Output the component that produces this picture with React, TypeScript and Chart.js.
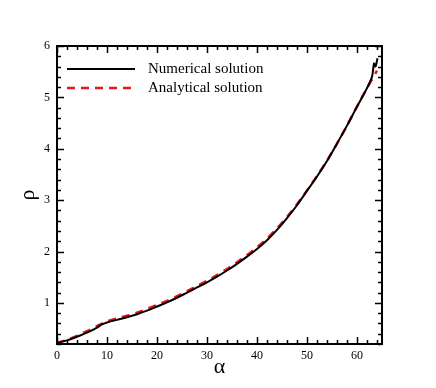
import React, { useEffect, useRef } from "react";
import { Chart, registerables } from "chart.js";

Chart.register(...registerables);

const numAlpha = [0, 2, 4, 6, 8, 9, 10, 12, 14, 16, 18, 20, 22, 24, 26, 28, 30, 32, 34, 36, 38, 40, 42, 44, 46, 48, 50, 52, 54, 56, 58, 60, 62, 63, 63.4, 63.7, 64.1];
const numRho = [0.22, 0.27, 0.34, 0.42, 0.52, 0.58, 0.62, 0.67, 0.72, 0.78, 0.85, 0.93, 1.01, 1.1, 1.2, 1.3, 1.4, 1.51, 1.63, 1.76, 1.9, 2.05, 2.22, 2.42, 2.65, 2.9, 3.18, 3.46, 3.76, 4.1, 4.45, 4.82, 5.18, 5.4, 5.66, 5.6, 5.76];

const anaAlpha = [0, 2, 4, 6, 8, 10, 12, 14, 16, 18, 20, 22, 24, 26, 28, 30, 32, 34, 36, 38, 40, 42, 44, 46, 48, 50, 52, 54, 56, 58, 60, 62, 64];
const anaRho = [0.22, 0.28, 0.36, 0.45, 0.55, 0.64, 0.7, 0.75, 0.81, 0.88, 0.96, 1.04, 1.13, 1.23, 1.33, 1.43, 1.54, 1.66, 1.79, 1.93, 2.08, 2.25, 2.45, 2.67, 2.92, 3.19, 3.47, 3.77, 4.1, 4.45, 4.82, 5.18, 5.52];

const xTickValues = [0, 10, 20, 30, 40, 50, 60];
const yTickValues = [1, 2, 3, 4, 5, 6];
const xRange = [0, 65];
const yRange = [0.2, 6];
const seriesLabels = ["Numerical solution", "Analytical solution"];

const FONT = "'Liberation Serif', 'Times New Roman', serif";

const framePlugin = {
  id: "frameTicks",
  afterDraw(chart: any) {
    const ctx = chart.ctx;
    const { left, right, top, bottom } = chart.chartArea;
    const xs = chart.scales.x;
    const ys = chart.scales.y;
    ctx.save();
    ctx.strokeStyle = "#000";
    ctx.lineWidth = 1.5;
    ctx.beginPath();
    for (let i = 0; i <= 32; i++) {
      const v = i * 2;
      const len = v % 10 === 0 ? 7 : 4;
      const px = Math.round(xs.getPixelForValue(v)) + 0.5;
      ctx.moveTo(px, bottom);
      ctx.lineTo(px, bottom - len);
      ctx.moveTo(px, top);
      ctx.lineTo(px, top + len);
    }
    for (let i = 1; i <= 30; i++) {
      const v = i * 0.2;
      const major = i % 5 === 0;
      const len = major ? 7 : 4;
      const py = Math.round(ys.getPixelForValue(v)) + 0.5;
      ctx.moveTo(left, py);
      ctx.lineTo(left + len, py);
      ctx.moveTo(right, py);
      ctx.lineTo(right - len, py);
    }
    ctx.stroke();
    ctx.lineWidth = 2;
    ctx.strokeRect(left, top, right - left, bottom - top);

    // legend
    const ds = chart.data.datasets;
    const lx0 = left + 10;
    const lx1 = left + 78;
    const rows = [top + 23, top + 42];
    ctx.font = `15px ${FONT}`;
    ctx.textBaseline = "middle";
    ctx.fillStyle = "#000";
    ds.forEach((d: any, i: number) => {
      ctx.beginPath();
      ctx.strokeStyle = d.borderColor;
      ctx.lineWidth = d.borderWidth;
      ctx.setLineDash(d.borderDash || []);
      ctx.moveTo(lx0, rows[i]);
      ctx.lineTo(lx1, rows[i]);
      ctx.stroke();
      ctx.setLineDash([]);
      ctx.fillText(d.label, lx1 + 13, rows[i]);
    });
    ctx.restore();
  },
};

export default function App() {
  const ref = useRef<HTMLCanvasElement>(null);
  useEffect(() => {
    document.body.style.margin = "0";
    const chart = new Chart(ref.current as HTMLCanvasElement, {
      type: "line",
      data: {
        datasets: [
          {
            label: seriesLabels[0],
            data: numAlpha.map((a, i) => ({ x: a, y: numRho[i] })),
            borderColor: "#000000",
            borderWidth: 2,
            pointRadius: 0,
            tension: 0.3,
          },
          {
            label: seriesLabels[1],
            data: anaAlpha.map((a, i) => ({ x: a, y: anaRho[i] })),
            borderColor: "#e8141b",
            borderWidth: 2.5,
            borderDash: [8, 6],
            pointRadius: 0,
            tension: 0.3,
          },
        ],
      },
      options: {
        animation: false,
        responsive: false,
        layout: { padding: { top: 46, right: 54, left: 0, bottom: 0 } },
        plugins: { legend: { display: false }, tooltip: { enabled: false } },
        scales: {
          x: {
            type: "linear",
            min: xRange[0],
            max: xRange[1],
            grid: { display: false, drawTicks: false },
            border: { display: false },
            afterBuildTicks: (s: any) => {
              s.ticks = xTickValues.map((v) => ({ value: v }));
            },
            afterFit: (s: any) => {
              s.height = 44;
            },
            ticks: { color: "#000", font: { family: FONT, size: 12 }, padding: 5, maxRotation: 0 },
            title: {
              display: true,
              text: "α",
              color: "#000",
              font: { family: FONT, size: 22 },
              padding: { top: 0, bottom: 8 },
            },
          },
          y: {
            type: "linear",
            min: yRange[0],
            max: yRange[1],
            grid: { display: false, drawTicks: false },
            border: { display: false },
            afterBuildTicks: (s: any) => {
              s.ticks = yTickValues.map((v) => ({ value: v }));
            },
            afterFit: (s: any) => {
              s.width = 57;
            },
            ticks: { color: "#000", font: { family: FONT, size: 12 }, padding: 7 },
            title: {
              display: true,
              text: "ρ",
              color: "#000",
              font: { family: FONT, size: 22 },
              padding: { top: 15, bottom: 0 },
            },
          },
        },
      },
      plugins: [framePlugin],
    } as any);
    return () => chart.destroy();
  }, []);
  return (
    <div style={{ width: 436, height: 388 }}>
      <canvas ref={ref} width={436} height={388} />
    </div>
  );
}
